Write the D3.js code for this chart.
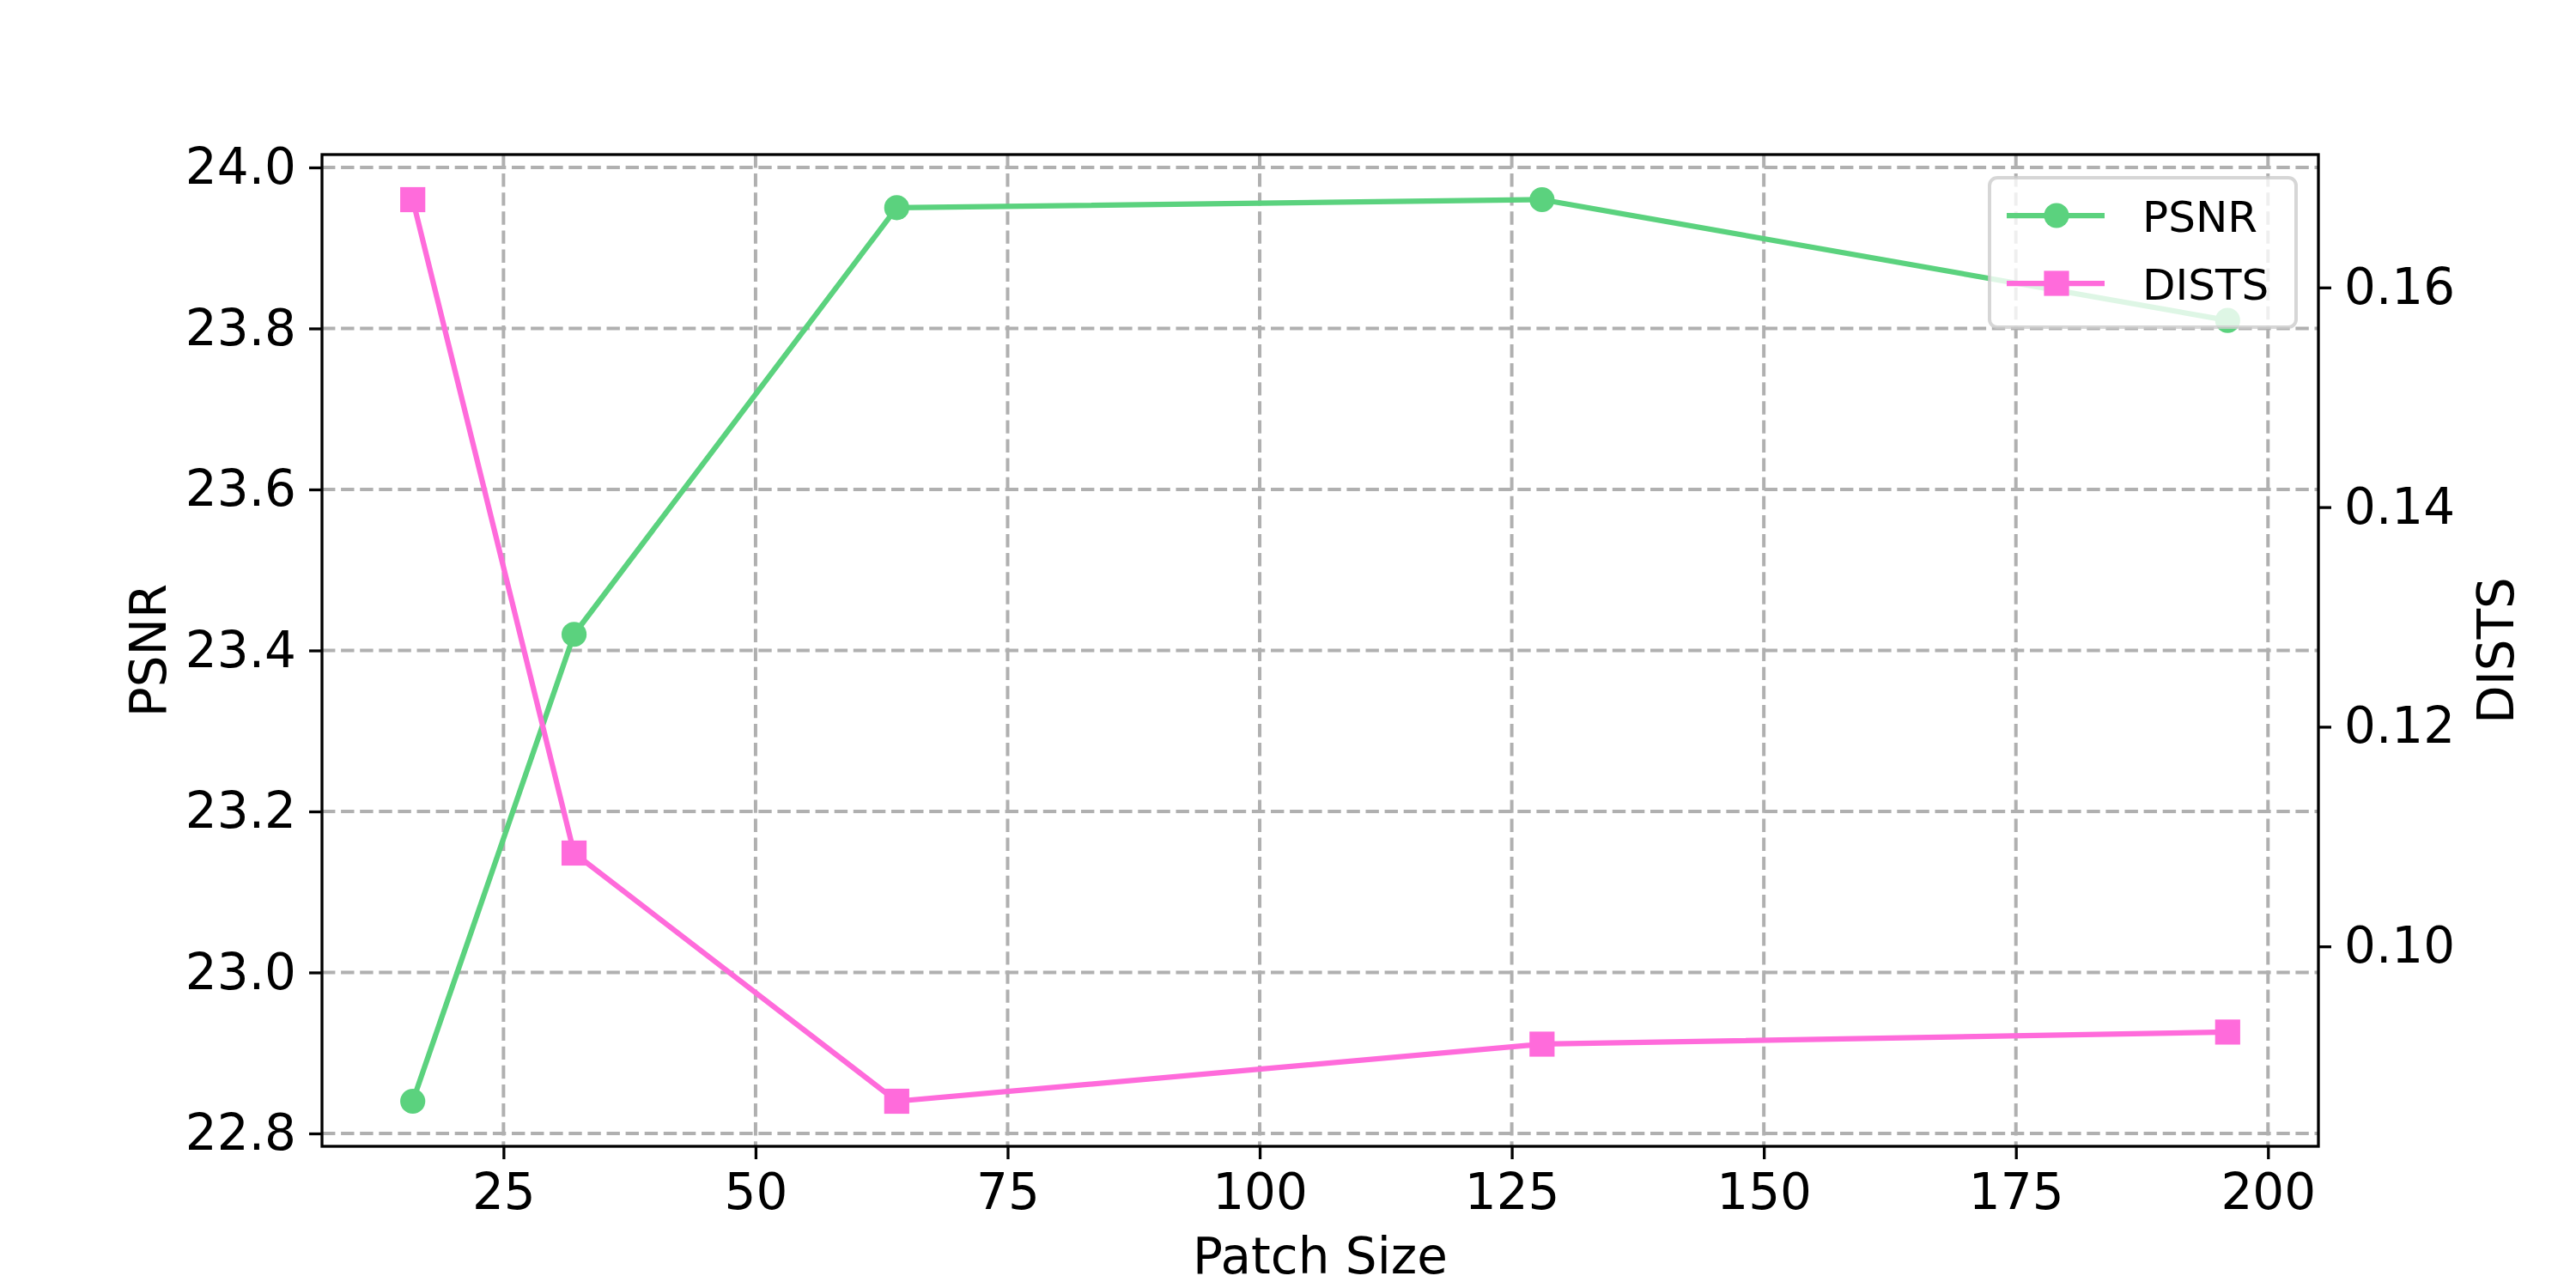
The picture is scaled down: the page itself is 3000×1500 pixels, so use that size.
<!DOCTYPE html>
<html>
<head>
<meta charset="utf-8">
<script src="https://cdn.jsdelivr.net/npm/d3@7"></script>
<style>
  body { margin: 0; background: #fff; }
  svg { display: block; font-family: "DejaVu Sans", sans-serif; }
</style>
</head>
<body>
<div id="chart"></div>
<script>
// data
var patchSizes = [16, 32, 64, 128, 196];
var psnr = [22.84, 23.42, 23.95, 23.96, 23.81];
var dists = [0.168, 0.1085, 0.0859, 0.0911, 0.0922];

var xTicks = [25, 50, 75, 100, 125, 150, 175, 200];
var psnrTicks = [22.8, 23.0, 23.2, 23.4, 23.6, 23.8, 24.0];
var distsTicks = [0.10, 0.12, 0.14, 0.16];

var seriesNames = ["PSNR", "DISTS"];
var green = "#5bd27e";
var pink = "#ff6bdb";

var svgWidth = 3000;
var svgHeight = 1500;

// axes box like matplotlib defaults on a 10x5 figure
var margin = { top: 180, right: 300, bottom: 165, left: 375 };
var chartWidth = svgWidth - margin.left - margin.right;
var chartHeight = svgHeight - margin.top - margin.bottom;

var svg = d3.select("#chart")
  .append("svg")
  .attr("width", svgWidth)
  .attr("height", svgHeight);

svg.append("rect")
  .attr("width", svgWidth)
  .attr("height", svgHeight)
  .attr("fill", "#fff");

var chartGroup = svg.append("g")
  .attr("transform", `translate(${margin.left}, ${margin.top})`);

// 5% padding, like matplotlib autoscale
function padded(values) {
  var lo = d3.min(values), hi = d3.max(values);
  var pad = (hi - lo) * 0.05;
  return [lo - pad, hi + pad];
}

var xScale = d3.scaleLinear().domain(padded(patchSizes)).range([0, chartWidth]);
var yLeft = d3.scaleLinear().domain(padded(psnr)).range([chartHeight, 0]);
var yRight = d3.scaleLinear().domain(padded(dists)).range([chartHeight, 0]);

var fontSize = 58;

// grid
var grid = chartGroup.append("g")
  .attr("stroke", "#b0b0b0")
  .attr("stroke-width", 4)
  .attr("stroke-dasharray", "15.4,6.7");

grid.selectAll(".vgrid")
  .data(xTicks)
  .enter()
  .append("line")
  .attr("x1", d => xScale(d))
  .attr("x2", d => xScale(d))
  .attr("y1", 0)
  .attr("y2", chartHeight);

grid.selectAll(".hgrid")
  .data(psnrTicks)
  .enter()
  .append("line")
  .attr("x1", 0)
  .attr("x2", chartWidth)
  .attr("y1", d => yLeft(d))
  .attr("y2", d => yLeft(d));

// axes
function styleAxis(g) {
  g.select(".domain").remove();
  g.selectAll(".tick line").attr("stroke", "#000").attr("stroke-width", 3.3);
  g.selectAll(".tick text")
    .attr("fill", "#000")
    .style("font-size", fontSize + "px")
    .style("font-family", "DejaVu Sans");
}

chartGroup.append("g")
  .attr("transform", `translate(0, ${chartHeight})`)
  .call(d3.axisBottom(xScale).tickValues(xTicks).tickSize(15).tickPadding(17).tickFormat(d3.format("d")))
  .call(styleAxis);

chartGroup.append("g")
  .call(d3.axisLeft(yLeft).tickValues(psnrTicks).tickSize(15).tickPadding(15).tickFormat(d3.format(".1f")))
  .call(styleAxis);

chartGroup.append("g")
  .attr("transform", `translate(${chartWidth}, 0)`)
  .call(d3.axisRight(yRight).tickValues(distsTicks).tickSize(15).tickPadding(15).tickFormat(d3.format(".2f")))
  .call(styleAxis);

// PSNR line
var psnrData = patchSizes.map((p, i) => ({ x: p, y: psnr[i] }));
var distsData = patchSizes.map((p, i) => ({ x: p, y: dists[i] }));

chartGroup.append("path")
  .datum(psnrData)
  .attr("fill", "none")
  .attr("stroke", green)
  .attr("stroke-width", 6.25)
  .attr("stroke-linejoin", "round")
  .attr("d", d3.line().x(d => xScale(d.x)).y(d => yLeft(d.y)));

chartGroup.selectAll(".psnr-dot")
  .data(psnrData)
  .enter()
  .append("circle")
  .attr("cx", d => xScale(d.x))
  .attr("cy", d => yLeft(d.y))
  .attr("r", 14.6)
  .attr("fill", green);

// DISTS line (twin axis)
chartGroup.append("path")
  .datum(distsData)
  .attr("fill", "none")
  .attr("stroke", pink)
  .attr("stroke-width", 6.25)
  .attr("stroke-linejoin", "round")
  .attr("d", d3.line().x(d => xScale(d.x)).y(d => yRight(d.y)));

chartGroup.selectAll(".dists-sq")
  .data(distsData)
  .enter()
  .append("rect")
  .attr("x", d => xScale(d.x) - 14.6)
  .attr("y", d => yRight(d.y) - 14.6)
  .attr("width", 29.2)
  .attr("height", 29.2)
  .attr("fill", pink);

// spines
chartGroup.append("rect")
  .attr("width", chartWidth)
  .attr("height", chartHeight)
  .attr("fill", "none")
  .attr("stroke", "#000")
  .attr("stroke-width", 3.3);

// axis labels
svg.append("text")
  .attr("x", margin.left + chartWidth / 2)
  .attr("y", 1483)
  .attr("text-anchor", "middle")
  .style("font-size", fontSize + "px")
  .text("Patch Size");

svg.append("text")
  .attr("transform", `translate(193, ${margin.top + chartHeight / 2}) rotate(-90)`)
  .attr("text-anchor", "middle")
  .style("font-size", fontSize + "px")
  .text("PSNR");

svg.append("text")
  .attr("transform", `translate(2927, ${margin.top + chartHeight / 2}) rotate(-90)`)
  .attr("text-anchor", "middle")
  .style("font-size", fontSize + "px")
  .text("DISTS");

// legend, upper right
var legend = svg.append("g").attr("transform", "translate(2317, 207)");

legend.append("rect")
  .attr("width", 357)
  .attr("height", 174)
  .attr("rx", 9)
  .attr("fill", "#fff")
  .attr("fill-opacity", 0.8)
  .attr("stroke", "#cccccc")
  .attr("stroke-opacity", 0.8)
  .attr("stroke-width", 4);

var rows = legend.selectAll(".row")
  .data(seriesNames)
  .enter()
  .append("g")
  .attr("transform", (d, i) => `translate(0, ${44 + i * 79})`);

rows.append("line")
  .attr("x1", 20)
  .attr("x2", 134)
  .attr("stroke", (d, i) => i === 0 ? green : pink)
  .attr("stroke-width", 6.25);

rows.filter((d, i) => i === 0).append("circle")
  .attr("cx", 78)
  .attr("r", 14.6)
  .attr("fill", green);

rows.filter((d, i) => i === 1).append("rect")
  .attr("x", 78 - 14.6)
  .attr("y", -14.6)
  .attr("width", 29.2)
  .attr("height", 29.2)
  .attr("fill", pink);

rows.append("text")
  .attr("x", 178)
  .attr("y", 19)
  .style("font-size", "50px")
  .text(d => d);
</script>
</body>
</html>
